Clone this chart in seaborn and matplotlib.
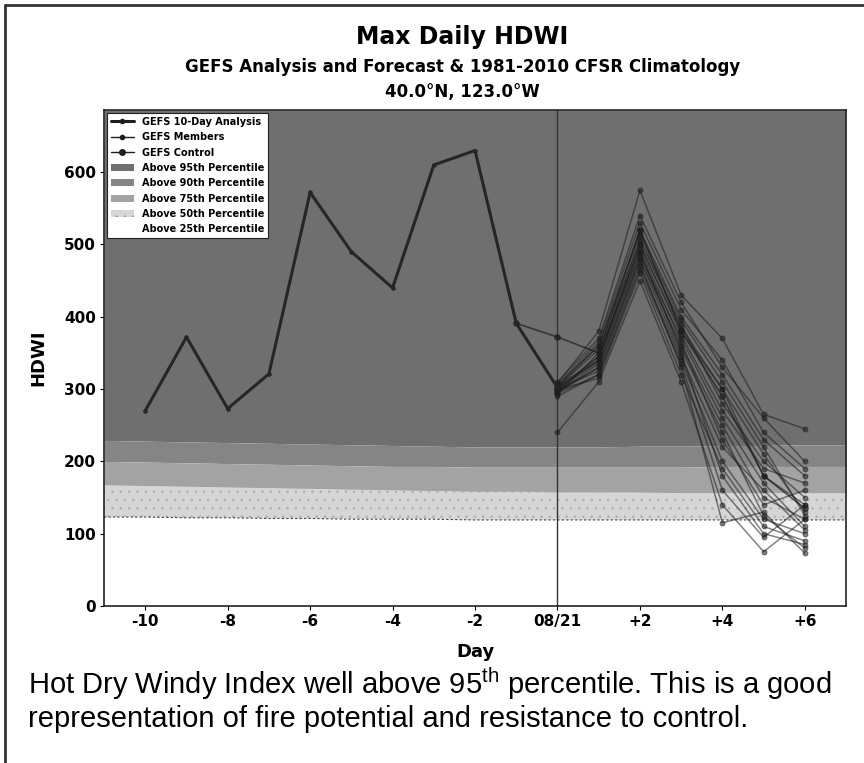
import numpy as np
import pandas as pd
import matplotlib
matplotlib.use("Agg")
import matplotlib.pyplot as plt
import seaborn as sns
from matplotlib.lines import Line2D
from matplotlib.patches import Patch

# ---- data ----
analysis_days = [-10, -9, -8, -7, -6, -5, -4, -3, -2, -1, 0]
analysis_hdwi = [270, 372, 273, 321, 572, 490, 440, 610, 630, 391, 302]

member_days = [0, 1, 2, 3, 4, 5, 6]
members = {
    "m01": [300, 340, 500, 380, 300, 180, 140],
    "m02": [295, 330, 480, 360, 250, 150, 120],
    "m03": [305, 360, 520, 400, 320, 230, 180],
    "m04": [290, 320, 470, 340, 200, 120, 100],
    "m05": [310, 370, 540, 420, 330, 260, 200],
    "m06": [298, 345, 490, 350, 180, 100, 85],
    "m07": [240, 310, 450, 310, 140, 75, 120],
    "m08": [302, 355, 505, 390, 280, 200, 150],
    "m09": [296, 335, 485, 370, 260, 170, 110],
    "m10": [308, 380, 575, 430, 370, 265, 245],
    "m11": [300, 325, 475, 330, 115, 130, 73],
    "m12": [293, 350, 495, 365, 230, 140, 160],
    "m13": [304, 340, 510, 385, 300, 210, 130],
    "m14": [299, 315, 460, 320, 190, 110, 90],
    "m15": [306, 365, 530, 410, 340, 240, 190],
    "m16": [297, 330, 480, 345, 220, 160, 105],
    "m17": [301, 345, 500, 375, 270, 190, 170],
    "m18": [294, 320, 465, 335, 160, 95, 140],
    "m19": [303, 360, 515, 395, 310, 220, 125],
    "m20": [300, 338, 490, 355, 240, 125, 80],
}
control_days = [-1, 0, 1, 2, 3, 4, 5, 6]
control_hdwi = [391, 372, 350, 520, 380, 290, 180, 135]

# 1981-2010 climatology percentiles
clim_days = list(range(-11, 8))
p95 = [229, 228, 227, 226, 225, 224, 223, 222, 221, 220, 220, 220, 220, 221, 221, 222, 222, 223, 223]
p90 = [200, 199, 198, 197, 196, 195, 194, 193, 193, 192, 192, 192, 192, 192, 192, 193, 193, 193, 193]
p75 = [167, 166, 165, 164, 163, 162, 161, 160, 159, 158, 158, 157, 157, 157, 156, 156, 156, 156, 156]
p50 = [123, 123, 122, 122, 121, 121, 120, 120, 120, 119, 119, 119, 119, 119, 119, 119, 119, 119, 119]
p25 = [84, 84, 83, 83, 83, 82, 82, 82, 82, 82, 82, 82, 82, 82, 82, 82, 82, 82, 82]

xticks = [-10, -8, -6, -4, -2, 0, 2, 4, 6]
xtick_labels = ["-10", "-8", "-6", "-4", "-2", "08/21", "+2", "+4", "+6"]
yticks = [0, 100, 200, 300, 400, 500, 600]
ymax = 686

sns.set_style("ticks")
plt.rcParams["font.family"] = ["DejaVu Sans"]
plt.rcParams["text.color"] = "black"
plt.rcParams["xtick.color"] = "black"
plt.rcParams["ytick.color"] = "black"
plt.rcParams["axes.labelcolor"] = "black"
plt.rcParams["mathtext.fontset"] = "custom"
plt.rcParams["mathtext.rm"] = "Liberation Sans"
plt.rcParams["hatch.linewidth"] = 0.6

fig = plt.figure(figsize=(8.64, 7.63), dpi=100)
ax = fig.add_axes([0.1204, 0.2058, 0.8588, 0.65])

# percentile bands
c95, c90, c75, c50 = "#6f6f6f", "#858585", "#a3a3a3", "#d6d6d6"
ax.fill_between(clim_days, p95, ymax, color=c95, lw=0, zorder=0)
ax.fill_between(clim_days, p90, p95, color=c90, lw=0, zorder=0)
ax.fill_between(clim_days, p75, p90, color=c75, lw=0, zorder=0)
ax.fill_between(clim_days, p50, p75, facecolor=c50, edgecolor="#b0b0b0", hatch="..", lw=0, zorder=0)
ax.fill_between(clim_days, p25, p50, color="white", lw=0, zorder=0)
ax.plot(clim_days, p50, color="#444444", lw=0.8, ls=(0, (2, 2)), zorder=1)

ax.axvline(0, color="#333333", lw=1.0, zorder=2)

# members
mem_df = pd.DataFrame(
    [(name, d, v) for name, vals in members.items() for d, v in zip(member_days, vals)],
    columns=["member", "day", "hdwi"],
)
sns.lineplot(data=mem_df, x="day", y="hdwi", units="member", estimator=None,
             color="#1e1e1e", alpha=0.55, lw=1.1, marker="o", markersize=3.5,
             markeredgecolor="#1e1e1e", ax=ax, zorder=3)

ctrl_df = pd.DataFrame({"day": control_days, "hdwi": control_hdwi})
sns.lineplot(data=ctrl_df, x="day", y="hdwi", color="#1e1e1e", alpha=0.7, lw=1.2,
             marker="o", markersize=4, markeredgecolor="#1e1e1e", ax=ax, zorder=4)

ana_df = pd.DataFrame({"day": analysis_days, "hdwi": analysis_hdwi})
sns.lineplot(data=ana_df, x="day", y="hdwi", color="#262626", lw=2.2,
             marker="o", markersize=2.5, markeredgecolor="#262626", ax=ax, zorder=5)

ax.set_xlim(-11, 7)
ax.set_ylim(0, ymax)
ax.set_xticks(xticks)
ax.set_xticklabels(xtick_labels, fontsize=11, fontweight="bold")
ax.set_yticks(yticks)
ax.set_yticklabels([str(v) for v in yticks], fontsize=11, fontweight="bold")
ax.tick_params(length=3, width=0.8, pad=3)
ax.set_xlabel("Day", fontsize=13, fontweight="bold", labelpad=10)
ax.set_ylabel("HDWI", fontsize=13, fontweight="bold", labelpad=12)
for s in ax.spines.values():
    s.set_linewidth(1.2)
    s.set_color("#222222")

handles = [
    Line2D([], [], color="#1e1e1e", lw=2.2, marker="o", ms=3),
    Line2D([], [], color="#1e1e1e", lw=1, marker="o", ms=3),
    Line2D([], [], color="#1e1e1e", lw=1, marker="o", ms=4),
    Patch(facecolor=c95, edgecolor="none"),
    Patch(facecolor=c90, edgecolor="none"),
    Patch(facecolor=c75, edgecolor="none"),
    Patch(facecolor=c50, edgecolor="#9a9a9a", hatch="..", lw=0),
    Patch(facecolor="white", edgecolor="none"),
]
labels = ["GEFS 10-Day Analysis", "GEFS Members", "GEFS Control",
          "Above 95th Percentile", "Above 90th Percentile", "Above 75th Percentile",
          "Above 50th Percentile", "Above 25th Percentile"]
leg = ax.legend(handles, labels, loc="upper left", prop={"size": 7, "weight": "bold"},
                frameon=True, fancybox=False, framealpha=1, edgecolor="#222222",
                borderaxespad=0.3, labelspacing=0.55, handlelength=2.4, borderpad=0.4)
leg.get_frame().set_linewidth(0.8)

# titles
cx = 0.535
fig.text(cx, 0.952, "Max Daily HDWI", ha="center", va="center", fontsize=17, fontweight="bold")
fig.text(cx, 0.912, "GEFS Analysis and Forecast & 1981-2010 CFSR Climatology",
         ha="center", va="center", fontsize=12, fontweight="bold")
fig.text(cx, 0.879, "40.0°N, 123.0°W", ha="center", va="center", fontsize=12, fontweight="bold")

# caption
fig.text(0.032, 0.0905, r"Hot Dry Windy Index well above 95$^{\rm th}$ percentile. This is a good",
         family="Liberation Sans", fontsize=21, va="baseline")
fig.text(0.032, 0.047, "representation of fire potential and resistance to control.",
         family="Liberation Sans", fontsize=21, va="baseline")

# outer frame (top and left edges of the scanned box)
fig.add_artist(Line2D([0.006, 1.0], [0.993, 0.993], color="#333333", lw=2, transform=fig.transFigure))
fig.add_artist(Line2D([0.006, 0.006], [0.0, 0.993], color="#333333", lw=2, transform=fig.transFigure))

fig.savefig("out.png", dpi=100, facecolor="white")
